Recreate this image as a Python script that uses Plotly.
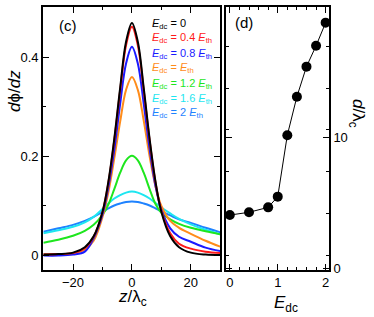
import plotly.graph_objects as go

# ---- data: left panel (c) ----
z = [-30, -25, -20, -16, -13, -10, -8, -6, -4, -2, 0, 2, 4, 6, 8, 10, 13, 16, 20, 25, 30]
p_0   = [0.002, 0.003, 0.006, 0.017, 0.039, 0.088, 0.149, 0.235, 0.338, 0.431, 0.469, 0.431, 0.338, 0.235, 0.149, 0.088, 0.039, 0.017, 0.006, 0.002, 0.001]
p_04  = [0.002, 0.003, 0.005, 0.015, 0.038, 0.088, 0.147, 0.232, 0.333, 0.424, 0.461, 0.424, 0.333, 0.232, 0.147, 0.090, 0.045, 0.024, 0.014, 0.008, 0.005]
p_08  = [0.000, 0.000, 0.002, 0.008, 0.035, 0.083, 0.138, 0.213, 0.306, 0.387, 0.421, 0.387, 0.306, 0.215, 0.140, 0.092, 0.055, 0.038, 0.028, 0.016, 0.009]
p_10  = [0.002, 0.003, 0.005, 0.012, 0.030, 0.078, 0.128, 0.196, 0.270, 0.334, 0.360, 0.334, 0.272, 0.200, 0.140, 0.100, 0.070, 0.056, 0.044, 0.030, 0.018]
p_12  = [0.026, 0.032, 0.040, 0.050, 0.062, 0.082, 0.103, 0.134, 0.167, 0.192, 0.201, 0.192, 0.167, 0.134, 0.104, 0.086, 0.073, 0.064, 0.056, 0.049, 0.043]
p_16  = [0.045, 0.051, 0.058, 0.067, 0.078, 0.094, 0.105, 0.115, 0.122, 0.127, 0.129, 0.127, 0.122, 0.115, 0.106, 0.097, 0.085, 0.074, 0.063, 0.052, 0.043]
p_20  = [0.048, 0.055, 0.062, 0.070, 0.078, 0.088, 0.095, 0.101, 0.105, 0.108, 0.109, 0.108, 0.105, 0.101, 0.095, 0.089, 0.081, 0.073, 0.066, 0.056, 0.047]

curves = [p_0, p_04, p_08, p_10, p_12, p_16, p_20]
colors = ["#000000", "#ff1a1a", "#1a1aff", "#ff8c1a", "#1ee61e", "#1ee6f0", "#1e82ff"]
labels = ["<i>E</i><sub>dc</sub> = 0",
          "<i>E</i><sub>dc</sub> = 0.4 <i>E</i><sub>th</sub>",
          "<i>E</i><sub>dc</sub> = 0.8 <i>E</i><sub>th</sub>",
          "<i>E</i><sub>dc</sub> = <i>E</i><sub>th</sub>",
          "<i>E</i><sub>dc</sub> = 1.2 <i>E</i><sub>th</sub>",
          "<i>E</i><sub>dc</sub> = 1.6 <i>E</i><sub>th</sub>",
          "<i>E</i><sub>dc</sub> = 2 <i>E</i><sub>th</sub>"]

# ---- data: right panel (d) ----
edc = [0, 0.4, 0.8, 1.0, 1.2, 1.4, 1.6, 1.8, 2.0]
d_lc = [4.08, 4.29, 4.67, 5.49, 10.2, 13.15, 15.45, 17.05, 18.82]

W, H = 374, 317
ML, MR, MT, MB = 0, 0, 7, 47
FONT = "Liberation Sans, Arial, sans-serif"

def px(x):
    return x / W

def py(y):
    return (H - MB - y) / (H - MT - MB)

fig = go.Figure()
for yv, c in reversed(list(zip(curves, colors))):
    fig.add_trace(go.Scatter(x=z, y=yv, mode="lines", line=dict(color=c, width=2, shape="spline", smoothing=1.0),
                             xaxis="x", yaxis="y", showlegend=False, hoverinfo="skip"))

fig.add_trace(go.Scatter(x=edc, y=d_lc, mode="lines+markers",
                         line=dict(color="black", width=1),
                         marker=dict(color="black", size=10),
                         xaxis="x2", yaxis="y2", showlegend=False, hoverinfo="skip"))

axis_common = dict(showline=True, linecolor="black", linewidth=1.8, mirror="ticks",
                   ticks="inside", ticklen=6, tickwidth=1, tickcolor="black",
                   showgrid=False, zeroline=False,
                   tickfont=dict(family=FONT, size=13, color="black"))

fig.update_layout(
    width=W, height=H,
    margin=dict(l=ML, r=MR, t=MT, b=MB),
    paper_bgcolor="white", plot_bgcolor="white",
    xaxis=dict(domain=[px(43), px(220)], range=[-30.2, 29.9], tickvals=[-20, 0, 20],
               minor=dict(ticks="inside", dtick=10, ticklen=3, tickcolor="black"),
               anchor="y", **axis_common),
    yaxis=dict(domain=[0, 1], range=[-0.029, 0.501], tickvals=[0, 0.2, 0.4],
               minor=dict(ticks="inside", dtick=0.1, ticklen=3, tickcolor="black"),
               anchor="x", **axis_common),
    xaxis2=dict(domain=[px(226), px(329)], range=[-0.08, 2.07], tickvals=[0, 1, 2],
                minor=dict(ticks="inside", tick0=0, dtick=0.2, ticklen=3, tickcolor="black"),
                anchor="y2", **axis_common),
    yaxis2=dict(domain=[0, 1], range=[-0.13, 20.02], tickvals=[0, 10, 20], side="right",
                minor=dict(ticks="inside", tick0=1.0, dtick=3.2, ticklen=3, tickcolor="black"),
                anchor="x2", **axis_common),
)

ann = []
for i, (lab, c) in enumerate(zip(labels, colors)):
    ann.append(dict(x=px(150), y=py(23.5 + 15 * i), xref="paper", yref="paper", text=lab,
                    xanchor="left", yanchor="middle", showarrow=False,
                    font=dict(family=FONT, size=11, color=c)))
ann.append(dict(x=px(57), y=py(26), xref="paper", yref="paper", text="(c)", xanchor="left", yanchor="middle",
                showarrow=False, font=dict(family=FONT, size=15, color="black")))
ann.append(dict(x=px(233), y=py(23), xref="paper", yref="paper", text="(d)", xanchor="left", yanchor="middle",
                showarrow=False, font=dict(family=FONT, size=15, color="black")))
ann.append(dict(x=px(15), y=py(91), xref="paper", yref="paper", text="<i>d</i>ϕ/<i>dz</i>", textangle=-90,
                xanchor="center", yanchor="middle", showarrow=False, font=dict(family=FONT, size=17, color="black")))
ann.append(dict(x=px(132), y=py(298), xref="paper", yref="paper", text="<i>z</i>/λ<sub>c</sub>",
                xanchor="center", yanchor="middle", showarrow=False, font=dict(family=FONT, size=17, color="black")))
ann.append(dict(x=px(286), y=py(304), xref="paper", yref="paper", text="<i>E</i><sub>dc</sub>",
                xanchor="center", yanchor="middle", showarrow=False, font=dict(family=FONT, size=17, color="black")))
ann.append(dict(x=px(357), y=py(113), xref="paper", yref="paper", text="<i>d</i>/λ<sub>c</sub>", textangle=90,
                xanchor="center", yanchor="middle", showarrow=False, font=dict(family=FONT, size=17, color="black")))
fig.update_layout(annotations=ann)

fig.write_html("out.html", config={"displayModeBar": False, "staticPlot": True},
               post_script="document.body.style.margin='0';document.body.style.padding='0';document.body.style.overflow='hidden';")
